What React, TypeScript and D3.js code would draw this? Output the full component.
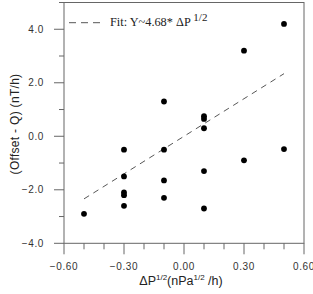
import { useRef, useEffect } from "react";
import * as d3 from "d3";

// Pressure-change vs. offset scatter with a linear fit through the origin
const deltaP = [-0.5, -0.3, -0.3, -0.3, -0.3, -0.3, -0.1, -0.1, -0.1, -0.1, 0.1, 0.1, 0.1, 0.1, 0.1, 0.3, 0.3, 0.5, 0.5];
const offset = [-2.9, -0.5, -1.5, -2.1, -2.2, -2.6, 1.3, -0.5, -1.65, -2.3, 0.75, 0.65, 0.3, -1.3, -2.7, 3.2, -0.9, 4.2, -0.48];

const fitSlope = 4.68;
const fitRange = [-0.5, 0.5];

const xMajorTicks = [-0.6, -0.3, 0, 0.3, 0.6];
const yMajorTicks = [-4, -2, 0, 2, 4];

const width = 313;
const height = 294;
const margin = { top: 2.5, right: 9, bottom: 50.7, left: 64 };

export default function App() {
  const svgRef = useRef<SVGSVGElement>(null);

  useEffect(() => {
    if (!svgRef.current) return;
    const svg = d3.select(svgRef.current);
    svg.selectAll("*").remove();

    const innerW = width - margin.left - margin.right;
    const innerH = height - margin.top - margin.bottom;
    const g = svg.append("g").attr("transform", `translate(${margin.left},${margin.top})`);

    const x = d3.scaleLinear().domain([-0.6, 0.6]).range([0, innerW]);
    const y = d3.scaleLinear().domain([-4, 5]).range([innerH, 0]);

    const axisColor = "#666";
    const labelColor = "#333";
    const sans = "'Liberation Sans', Arial, sans-serif";
    const serif = "'Liberation Serif', 'Times New Roman', serif";

    // frame
    g.append("rect")
      .attr("width", innerW)
      .attr("height", innerH)
      .attr("fill", "none")
      .attr("stroke", axisColor)
      .attr("stroke-width", 1);

    // x axis: minor ticks every 0.1, labels on the majors
    const xAll = d3.range(-6, 7).map((i) => i / 10);
    g.append("g")
      .selectAll("line")
      .data(xAll)
      .join("line")
      .attr("x1", (d) => x(d))
      .attr("x2", (d) => x(d))
      .attr("y1", innerH)
      .attr("y2", (d) => innerH + (xMajorTicks.some((m) => Math.abs(m - d) < 1e-9) ? 11 : 6))
      .attr("stroke", axisColor);

    g.append("g")
      .selectAll("text")
      .data(xMajorTicks)
      .join("text")
      .attr("x", (d) => x(d))
      .attr("y", innerH + 26.5)
      .attr("text-anchor", "middle")
      .attr("font-family", sans)
      .attr("font-size", 10)
      .attr("letter-spacing", 0.6)
      .attr("fill", labelColor)
      .text((d) => d3.format(".2f")(d));

    // y axis: minor ticks every 1, labels every 2
    const yAll = d3.range(-4, 6);
    g.append("g")
      .selectAll("line")
      .data(yAll)
      .join("line")
      .attr("x1", 0)
      .attr("x2", (d) => (d % 2 === 0 ? -10 : -5))
      .attr("y1", (d) => y(d))
      .attr("y2", (d) => y(d))
      .attr("stroke", axisColor);

    g.append("g")
      .selectAll("text")
      .data(yMajorTicks)
      .join("text")
      .attr("x", -20)
      .attr("y", (d) => y(d))
      .attr("dy", "0.36em")
      .attr("text-anchor", "end")
      .attr("font-family", sans)
      .attr("font-size", 10)
      .attr("letter-spacing", 0.6)
      .attr("fill", labelColor)
      .text((d) => d3.format(".1f")(d));

    // fit line
    const line = d3
      .line<number>()
      .x((d) => x(d))
      .y((d) => y(fitSlope * d));
    g.append("path")
      .datum(fitRange)
      .attr("fill", "none")
      .attr("stroke", "#444")
      .attr("stroke-width", 0.9)
      .attr("stroke-dasharray", "6,5")
      .attr("d", line);

    // points
    g.append("g")
      .selectAll("circle")
      .data(deltaP.map((d, i) => [d, offset[i]]))
      .join("circle")
      .attr("cx", (d) => x(d[0]))
      .attr("cy", (d) => y(d[1]))
      .attr("r", 2.9)
      .attr("fill", "#000");

    // legend
    g.append("line")
      .attr("x1", 5)
      .attr("x2", 38)
      .attr("y1", 20.2)
      .attr("y2", 20.2)
      .attr("stroke", "#444")
      .attr("stroke-width", 0.9)
      .attr("stroke-dasharray", "7,5");

    const leg = g
      .append("text")
      .attr("x", 46)
      .attr("y", 23.5)
      .attr("font-family", serif)
      .attr("font-size", 12.3)
      .attr("fill", "#222");
    leg.append("tspan").text("Fit: Y~4.68* \u0394P ");
    leg.append("tspan").attr("dy", -5.5).attr("font-size", 11).text("1/2");

    // axis titles
    const xt = svg
      .append("text")
      .attr("x", 181)
      .attr("y", 285)
      .attr("text-anchor", "middle")
      .attr("font-family", sans)
      .attr("font-size", 12.5)
      .attr("fill", "#222");
    xt.append("tspan").text("\u0394P");
    xt.append("tspan").attr("dy", -5).attr("font-size", 8).text("1/2");
    xt.append("tspan").attr("dy", 5).text("(nPa");
    xt.append("tspan").attr("dy", -5).attr("font-size", 8).text("1/2");
    xt.append("tspan").attr("dy", 5).text(" /h)");

    svg
      .append("text")
      .attr("transform", `translate(19,124) rotate(-90)`)
      .attr("text-anchor", "middle")
      .attr("font-family", sans)
      .attr("font-size", 12)
      .attr("letter-spacing", 0.3)
      .attr("fill", "#222")
      .text("(Offset - Q) (nT/h)");
  }, []);

  return (
    <svg
      ref={svgRef}
      width={width}
      height={height}
      style={{ position: "absolute", left: 0, top: 0, background: "#fff" }}
    />
  );
}
